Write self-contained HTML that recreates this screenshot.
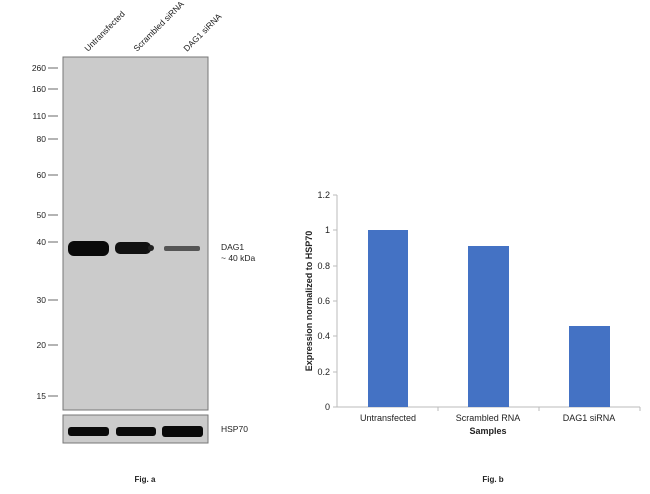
<!DOCTYPE html><html><head><style>body{margin:0;background:#fff;width:650px;height:489px;overflow:hidden}</style></head><body>
<svg width="650" height="489" font-family="Liberation Sans, sans-serif">
<g font-size="8.5" fill="#222">
<text transform="translate(88,52) rotate(-45)">Untransfected</text>
<text transform="translate(137,52) rotate(-45)">Scrambled siRNA</text>
<text transform="translate(187,52) rotate(-45)">DAG1 siRNA</text>
</g>
<rect x="63" y="57" width="145" height="353" fill="#cbcbcb" stroke="#777" stroke-width="1"/>
<rect x="63" y="415" width="145" height="28" fill="#cbcbcb" stroke="#777" stroke-width="1"/>
<g font-size="8.5" fill="#222" text-anchor="end">
<text x="46" y="71">260</text><text x="46" y="92">160</text><text x="46" y="119">110</text><text x="46" y="142">80</text><text x="46" y="178">60</text><text x="46" y="218">50</text><text x="46" y="245">40</text><text x="46" y="303">30</text><text x="46" y="348">20</text><text x="46" y="399">15</text>
</g>
<g stroke="#444" stroke-width="0.8">
<line x1="48" y1="68" x2="58" y2="68"/><line x1="48" y1="89" x2="58" y2="89"/><line x1="48" y1="116" x2="58" y2="116"/><line x1="48" y1="139" x2="58" y2="139"/><line x1="48" y1="175" x2="58" y2="175"/><line x1="48" y1="215" x2="58" y2="215"/><line x1="48" y1="242" x2="58" y2="242"/><line x1="48" y1="300" x2="58" y2="300"/><line x1="48" y1="345" x2="58" y2="345"/><line x1="48" y1="396" x2="58" y2="396"/>
</g>
<rect x="68" y="241" width="41" height="15" rx="6" fill="#0a0a0a"/>
<rect x="115" y="242" width="36" height="12" rx="5" fill="#111"/>
<rect x="148" y="245" width="6" height="6" rx="3" fill="#222"/>
<rect x="164" y="246" width="36" height="5" rx="2" fill="#555"/>
<rect x="68" y="427" width="41" height="9" rx="3" fill="#0a0a0a"/>
<rect x="116" y="427" width="40" height="9" rx="3" fill="#0a0a0a"/>
<rect x="162" y="426" width="41" height="11" rx="3" fill="#0a0a0a"/>
<g font-size="8.5" fill="#222">
<text x="221" y="250">DAG1</text><text x="221" y="261">~ 40 kDa</text><text x="221" y="432">HSP70</text>
</g>
<text x="145" y="482" font-size="8" font-weight="bold" text-anchor="middle" fill="#222">Fig. a</text>
<text x="493" y="482" font-size="8" font-weight="bold" text-anchor="middle" fill="#222">Fig. b</text>
<line x1="337" y1="195" x2="337" y2="407" stroke="#bbb"/>
<line x1="337" y1="407" x2="640" y2="407" stroke="#bbb"/>
<g stroke="#bbb"><line x1="333" y1="195" x2="337" y2="195"/><line x1="333" y1="230" x2="337" y2="230"/><line x1="333" y1="266" x2="337" y2="266"/><line x1="333" y1="301" x2="337" y2="301"/><line x1="333" y1="336" x2="337" y2="336"/><line x1="333" y1="372" x2="337" y2="372"/><line x1="333" y1="407" x2="337" y2="407"/>
<line x1="438" y1="407" x2="438" y2="411"/><line x1="539" y1="407" x2="539" y2="411"/><line x1="640" y1="407" x2="640" y2="411"/></g>
<g font-size="9" fill="#222" text-anchor="end">
<text x="330" y="198">1.2</text><text x="330" y="233">1</text><text x="330" y="269">0.8</text><text x="330" y="304">0.6</text><text x="330" y="339">0.4</text><text x="330" y="375">0.2</text><text x="330" y="410">0</text>
</g>
<rect x="368" y="230" width="40" height="177" fill="#4472c4"/>
<rect x="468" y="246" width="41" height="161" fill="#4472c4"/>
<rect x="569" y="326" width="41" height="81" fill="#4472c4"/>
<g font-size="9" fill="#222" text-anchor="middle">
<text x="388" y="421">Untransfected</text><text x="488" y="421">Scrambled RNA</text><text x="589" y="421">DAG1 siRNA</text>
<text x="488" y="434" font-weight="bold">Samples</text>
<text transform="translate(312,301) rotate(-90)" font-weight="bold">Expression normalized to HSP70</text>
</g>
</svg>
</body></html>
